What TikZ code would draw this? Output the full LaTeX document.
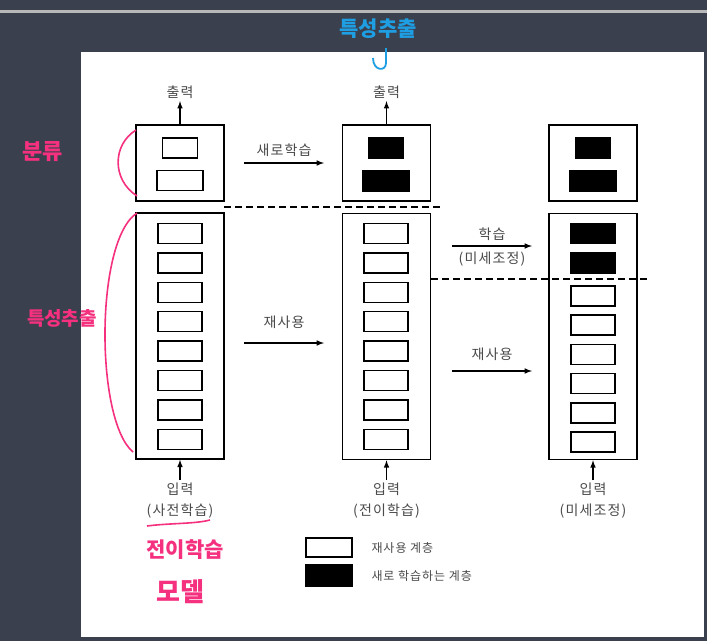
\documentclass[tikz,border=0pt]{standalone}
\usepackage{fontspec}
\newfontfamily\kr{Noto Sans CJK KR}[LetterSpace=8]
\newfontfamily\hand{Noto Sans CJK KR}
\usetikzlibrary{arrows,positioning}
\definecolor{screen}{HTML}{3B404F}
\definecolor{label}{HTML}{4A4A4A}
\definecolor{pen}{HTML}{F5307E}
\definecolor{marker}{HTML}{1E9FE3}

\begin{document}
\begin{tikzpicture}[x=1pt,y=-1pt,line width=1.5pt,
font=\kr\fontsize{14}{21}\selectfont,
block/.style={draw,rectangle,minimum width=88pt,inner sep=0pt},
layer/.style={draw,fill=white,rectangle,minimum width=44pt,minimum height=20pt,inner sep=0pt},
newlayer/.style={layer,fill=black},
txt/.style={text=label,align=center,inner sep=2pt},
keytxt/.style={txt,font=\kr\fontsize{12}{14}\selectfont},
flow/.style={-latex},
cut/.style={dash pattern=on 7pt off 4pt},
note/.style={text=pen,inner sep=0pt},
every path/.append style={line join=miter}]
% screen and page
\fill[screen] (0,0) rectangle (707,641);
\fill[gray!55] (0,10) rectangle (707,13);
\fill[white] (81,52) rectangle (704,637);
\useasboundingbox (0,0) rectangle (707,641);

% classifier part
\node[block,minimum height=76pt] (cls1) at (180,163) {};
\node[block,minimum height=76pt] (cls2) at (386.5,163) {};
\node[block,minimum height=76pt] (cls3) at (593,163) {};
\node[layer,minimum width=35pt] (c1a) at (180,148) {};
\node[layer,minimum width=46pt] (c1b) at (180,180.5) {};
\node[newlayer,minimum width=35pt] (c2a) at (386,148) {};
\node[newlayer,minimum width=46pt] (c2b) at (386,181) {};
\node[newlayer,minimum width=35pt] (c3a) at (593,148) {};
\node[newlayer,minimum width=46pt] (c3b) at (593,181) {};

% feature extractor part
\node[block,minimum height=246pt] (feat1) at (180,336) {};
\node[block,minimum height=246pt] (feat2) at (386.5,336.5) {};
\node[block,minimum height=246pt] (feat3) at (593,336.5) {};
\foreach \i in {0,...,7} {
\node[layer] (f1\i) at (180,233.5+29.4*\i) {};
\node[layer] (f2\i) at (386,233.5+29.4*\i) {};
}
\node[newlayer] (f30) at (593,233.5) {};
\node[newlayer] (f31) at (593,263) {};
\foreach \i in {2,...,7}
\node[layer] (f3\i) at (593,296+29.2*\i-58.4) {};

% outputs and inputs
\node[txt] (out1) at (180,92) {출력};
\node[txt] (out2) at (386.5,92) {출력};
\draw[flow] (cls1) -- (out1);
\draw[flow] (cls2) -- (out2);
\node[txt,anchor=north] (in1) at (180,480) {입력\\(사전학습)};
\node[txt,anchor=north] (in2) at (386.5,480) {입력\\(전이학습)};
\node[txt,anchor=north] (in3) at (593,480) {입력\\(미세조정)};
\draw[flow] (in1) -- (feat1);
\draw[flow] (in2) -- (feat2);
\draw[flow] (in3) -- (feat3);

% transfer arrows
\coordinate (r1s) at (244,163); \coordinate (r1e) at (324,163);
\coordinate (r2s) at (244,343); \coordinate (r2e) at (324,343);
\coordinate (r3s) at (452,246); \coordinate (r3e) at (532,246);
\coordinate (r4s) at (452,371); \coordinate (r4e) at (532,371);
\draw[flow] (r1s) -- node[txt,above=4pt] {새로학습} (r1e);
\draw[flow] (r2s) -- node[txt,above=12pt] {재사용} (r2e);
\draw[flow] (r3s) -- node[txt,above=3pt] {학습}
node[txt,below=3pt] {(미세조정)} (r3e);
\draw[flow] (r4s) -- node[txt,above=8pt] {재사용} (r4e);

% frozen / trained borders
\coordinate (cut1s) at (224,207); \coordinate (cut1e) at (441,207);
\coordinate (cut2s) at (431,279); \coordinate (cut2e) at (648,279);
\draw[cut] (cut1s) -- (cut1e);
\draw[cut] (cut2s) -- (cut2e);

% legend
\node[layer,minimum width=46pt,minimum height=19pt] (keyold) at (329,547.5) {};
\node[newlayer,minimum width=46pt,minimum height=21pt] (keynew) at (329,575.5) {};
\node[keytxt,right=16pt of keyold] {재사용 계층};
\node[keytxt,right=16pt of keynew] {새로 학습하는 계층};

% hand notes
\node[note,font=\hand\bfseries\fontsize{22}{22}\selectfont] (hcls) at (43,152) {분류};
\node[note,font=\hand\bfseries\fontsize{19}{19}\selectfont] (hfeat) at (62,318) {특성추출};
\node[note,font=\hand\bfseries\fontsize{21}{21}\selectfont] (hmodel1) at (185,550) {전이학습};
\node[note,font=\hand\bfseries\fontsize{26}{26}\selectfont] (hmodel2) at (180,592) {모델};
\node[text=marker,inner sep=0pt,font=\hand\bfseries\fontsize{21}{21}\selectfont] (hlook) at (378,29) {특성추출};
\draw[pen,line width=1.6pt] (136,130) .. controls (112,145) and (112,180) .. (137,196);
\draw[pen,line width=1.6pt] (137,213) .. controls (95,240) and (95,420) .. (133,452);
\draw[pen,line width=1.6pt] (147,526) .. controls (170,523) and (195,524) .. (210,520);
\draw[marker,line width=1.8pt] (386,48) -- (386,63) .. controls (386,72) and (373,71) .. (373,58);
\end{tikzpicture}
\end{document}
